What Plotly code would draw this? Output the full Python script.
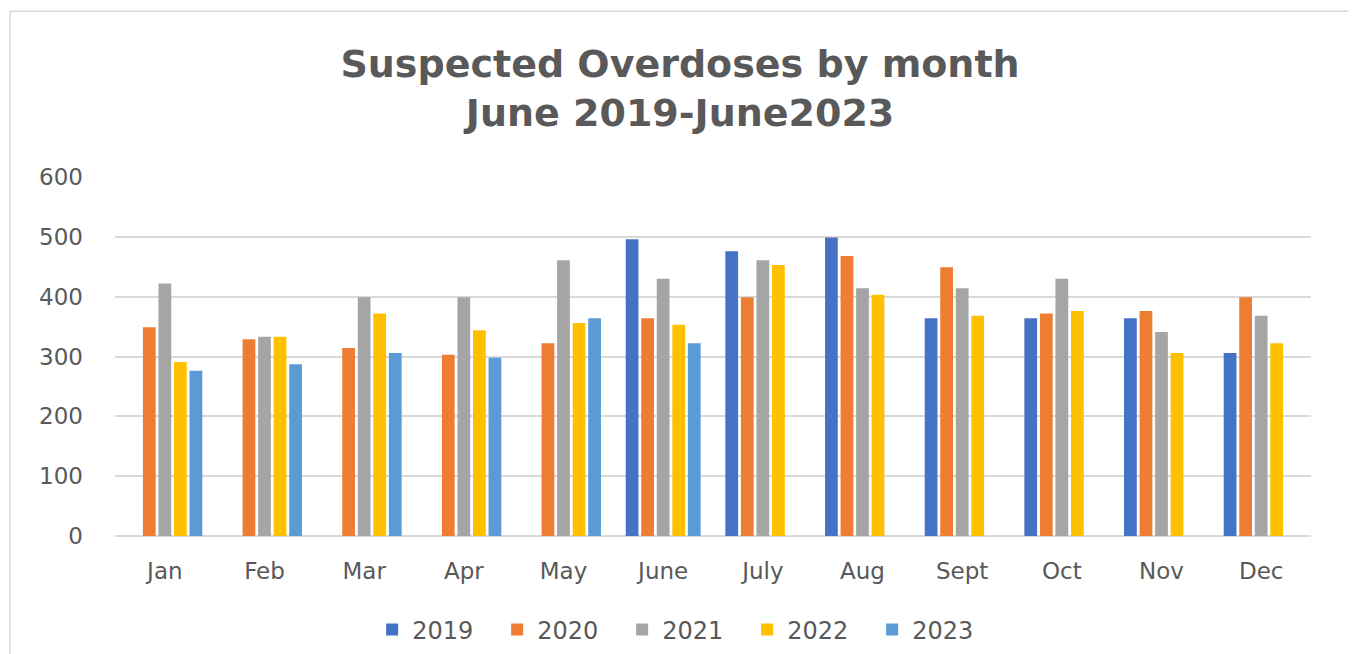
import plotly.graph_objects as go

months = ["Jan", "Feb", "Mar", "Apr", "May", "June", "July", "Aug", "Sept", "Oct", "Nov", "Dec"]
y2019 = [None, None, None, None, None, 496, 476, 499, 364, 364, 364, 306]
y2020 = [349, 329, 314, 303, 322, 364, 399, 468, 449, 372, 376, 399]
y2021 = [422, 333, 399, 399, 461, 430, 461, 414, 414, 430, 341, 368]
y2022 = [291, 333, 372, 344, 356, 353, 453, 403, 368, 376, 306, 322]
y2023 = [276, 287, 306, 298, 364, 322, None, None, None, None, None, None]

series = [("2019", y2019, "#4472C4"), ("2020", y2020, "#ED7D31"), ("2021", y2021, "#A5A5A5"),
          ("2022", y2022, "#FFC000"), ("2023", y2023, "#5B9BD5")]

fig = go.Figure()
for name, vals, col in series:
    fig.add_trace(go.Bar(x=months, y=vals, name=name, marker=dict(color=col, line=dict(width=0))))

fig.update_layout(
    width=1356, height=654,
    paper_bgcolor="white", plot_bgcolor="white",
    margin=dict(l=107, r=53, t=169, b=126, autoexpand=False),
    barmode="group", bargap=0.22, bargroupgap=0.18,
    font=dict(family="DejaVu Sans", color="#595959", size=23),
    title=dict(text="<b>Suspected Overdoses by month<br>June 2019-June2023</b>",
               x=0.4956, xanchor="center", xref="container", yref="container",
               y=1 - 68.5 / 654, yanchor="middle",
               font=dict(family="DejaVu Sans", size=38, color="#595959")),
    xaxis=dict(showgrid=False, ticks="", tickfont=dict(size=23), showline=False,
               ticklabelstandoff=19),
    yaxis=dict(range=[0, 600], dtick=100, showgrid=True, gridcolor="#D9D9D9", gridwidth=1.5,
               zeroline=True, zerolinecolor="#D9D9D9", zerolinewidth=1.5,
               ticks="", ticklabelstandoff=31, tickfont=dict(size=23)),
    legend=dict(orientation="h", x=0.499, xanchor="center", xref="container",
                yref="container", y=32 / 654, yanchor="middle",
                font=dict(size=24), itemwidth=30, entrywidth=80, traceorder="normal"),
    shapes=[dict(type="rect", xref="paper", yref="paper", x0=-0.0878, x1=1.0318,
                 y0=-0.4, y1=1.462, line=dict(color="#D9D9D9", width=1.5), layer="below")],
)
fig.write_html("out.html")
